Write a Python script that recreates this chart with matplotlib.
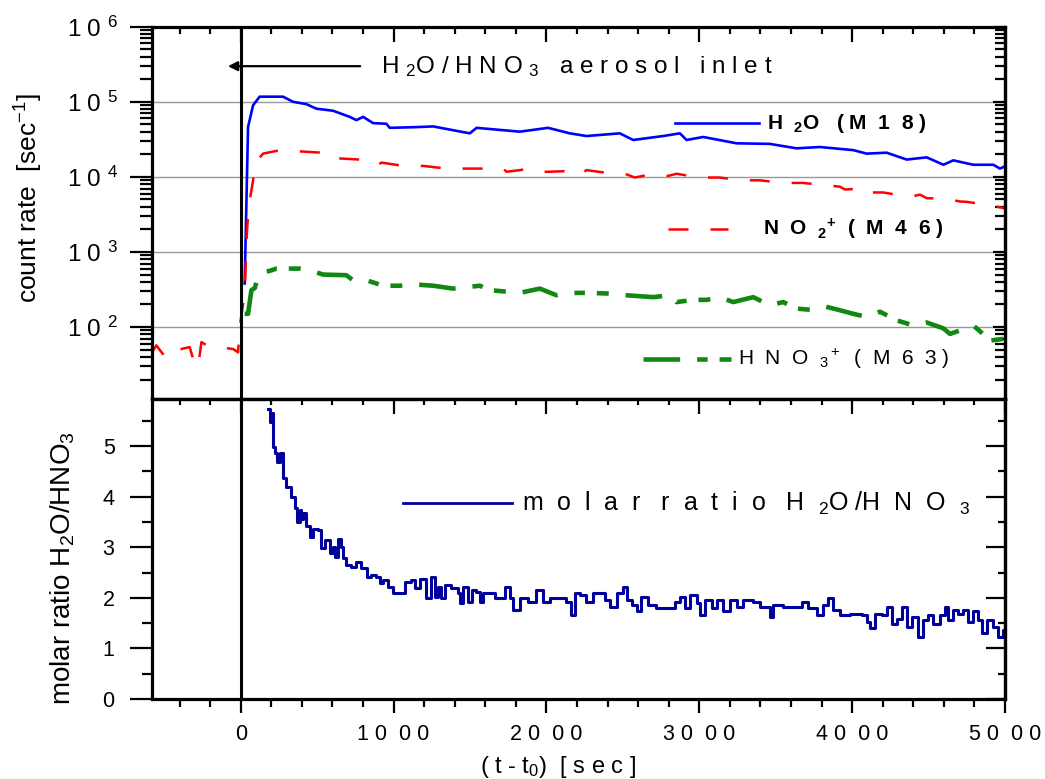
import numpy as np
import matplotlib
matplotlib.use("Agg")
import matplotlib.pyplot as plt
from matplotlib.ticker import FixedLocator, MultipleLocator, LogLocator, NullFormatter, FixedFormatter

plt.rcParams['font.family'] = ['Liberation Sans', 'DejaVu Sans']
plt.rcParams['mathtext.fontset'] = 'custom'
plt.rcParams['mathtext.rm'] = 'Liberation Sans'
plt.rcParams['mathtext.it'] = 'Liberation Sans:italic'
plt.rcParams['mathtext.bf'] = 'Liberation Sans:bold'

# H2O count rate (M18)
t_h2o = [26, 48, 81, 124, 234, 277, 342, 430, 495, 604, 713, 757, 801, 866, 953, 975,
         1150, 1259, 1412, 1499, 1543, 1826, 2011, 2153, 2262, 2480, 2568, 2764, 2873,
         2917, 3026, 3244, 3462, 3636, 3789, 4008, 4095, 4226, 4357, 4488, 4597, 4662,
         4793, 4924, 4967, 5000]
c_h2o = [380, 46000, 90000, 117000, 117000, 117000, 100000, 93000, 81000, 76000, 63000,
         57000, 63000, 52000, 51000, 45000, 46000, 47000, 41000, 38000, 45000, 40000,
         45000, 38000, 35000, 38000, 31000, 35000, 38000, 31000, 34000, 28000, 27500,
         24000, 25000, 22700, 20400, 21000, 17000, 18200, 14500, 16600, 14500, 14500,
         12900, 13800]

# NO2+ count rate (M46)
t_no2 = [-580, -552, -486, -443, -389, -334, -312, -279, -257, -203, -116, -50, -17, -7,
         26, 40, 52, 81, 92, 146, 234, 365, 528, 561, 648, 779, 888, 921, 1063, 1194,
         1346, 1499, 1630, 1717, 1739, 1826, 1891, 1957, 2022, 2153, 2219, 2262, 2437,
         2524, 2579, 2698, 2797, 2851, 3004, 3135, 3266, 3397, 3549, 3680, 3811, 3920,
         3953, 4095, 4117, 4204, 4378, 4444, 4488, 4618, 4706, 4749, 4902, 5000]
c_no2 = [46, 57, 38, 46, 51, 54, 38, 29, 63, 54, 53, 51, 46, 100,
         280, 1740, 4000, 9000, 15000, 20400, 22200, 22000, 21000, 17600, 17600, 17000,
         14000, 15500, 14000, 14000, 12900, 12900, 12900, 12900, 11700, 12300, 12900,
         11700, 11700, 12000, 10500, 12300, 11000, 10800, 9800, 11000, 10300, 11000,
         9800, 9800, 9000, 9000, 8300, 8300, 7800, 7400, 6800, 7000, 6200, 6200, 5400,
         5800, 5200, 5100, 4700, 4650, 4200, 3800]

# HNO3+ count rate (M63)
t_hno3 = [26, 48, 70, 92, 113, 146, 190, 234, 386, 452, 539, 691, 735, 822, 888, 932,
          1041, 1128, 1259, 1390, 1564, 1630, 1826, 1957, 2066, 2153, 2262, 2393, 2524,
          2698, 2808, 2851, 2960, 3048, 3135, 3222, 3353, 3462, 3549, 3636, 3724, 3811,
          3898, 4008, 4095, 4182, 4291, 4400, 4488, 4597, 4640, 4706, 4793, 4836, 4902,
          5000]
c_hno3 = [150, 150, 310, 330, 465, 540, 560, 600, 600, 570, 500, 490, 420, 420, 380, 355,
          355, 370, 355, 325, 355, 310, 285, 325, 265, 285, 285, 280, 265, 250, 265, 215,
          230, 230, 250, 215, 250, 195, 215, 176, 170, 190, 172, 150, 136, 160, 123, 105,
          115, 96, 81, 90, 105, 88, 66, 70]

# molar ratio H2O/HNO3
t_ratio = [179, 190, 201, 212, 223, 240, 255, 277, 299, 332, 353, 370, 386, 397, 408, 430,
           452, 473, 506, 528, 550, 582, 604, 615, 637, 659, 670, 692, 724, 757, 790, 823,
           855, 888, 910, 931, 964, 997, 1052, 1073, 1117, 1139, 1171, 1204, 1215, 1248,
           1270, 1291, 1313, 1335, 1379, 1422, 1433, 1455, 1488, 1510, 1542, 1564, 1586,
           1662, 1728, 1760, 1782, 1826, 1880, 1935, 1978, 2022, 2088, 2131, 2164, 2186,
           2219, 2262, 2306, 2349, 2382, 2415, 2459, 2502, 2524, 2557, 2590, 2622, 2666,
           2720, 2786, 2840, 2873, 2906, 2938, 2982, 3004, 3037, 3081, 3113, 3157, 3200,
           3244, 3288, 3353, 3397, 3462, 3484, 3549, 3615, 3669, 3713, 3768, 3811, 3844,
           3877, 3920, 3986, 4062, 4095, 4117, 4149, 4193, 4226, 4258, 4291, 4324, 4357,
           4389, 4433, 4466, 4498, 4531, 4575, 4607, 4629, 4662, 4695, 4728, 4760, 4793,
           4826, 4848, 4880, 4924, 4957, 4989, 5000]
r_ratio = [5.74, 5.48, 5.65, 4.99, 4.86, 4.69, 4.86, 4.36, 4.20, 4.00, 3.77, 3.50, 3.74,
           3.55, 3.67, 3.41, 3.21, 3.37, 3.35, 2.98, 3.14, 2.88, 3.01, 2.81, 3.17, 3.01,
           2.78, 2.65, 2.61, 2.71, 2.58, 2.42, 2.45, 2.42, 2.29, 2.35, 2.22, 2.09, 2.09,
           2.32, 2.35, 2.19, 2.38, 2.38, 1.99, 2.42, 2.02, 2.22, 1.99, 2.25, 2.19, 2.09,
           1.89, 2.22, 1.92, 2.15, 2.12, 1.92, 2.09, 1.99, 2.22, 1.99, 1.76, 1.99, 1.92,
           2.15, 1.92, 1.99, 1.99, 1.92, 1.66, 2.09, 2.06, 1.92, 2.09, 2.09, 1.96, 1.82,
           2.09, 2.22, 1.96, 1.86, 1.73, 2.02, 1.86, 1.79, 1.79, 1.92, 2.02, 1.79, 2.06,
           1.89, 1.66, 1.96, 1.79, 1.96, 1.73, 1.96, 1.82, 1.96, 1.92, 1.82, 1.63, 1.86,
           1.82, 1.82, 1.92, 1.79, 1.66, 1.86, 1.99, 1.76, 1.66, 1.69, 1.66, 1.53, 1.40,
           1.69, 1.66, 1.82, 1.49, 1.59, 1.82, 1.43, 1.63, 1.23, 1.56, 1.66, 1.49, 1.66,
           1.82, 1.56, 1.76, 1.69, 1.76, 1.53, 1.73, 1.56, 1.30, 1.56, 1.43, 1.23, 1.36,
           1.36]

x_ticks = [0, 1000, 2000, 3000, 4000, 5000]
x_labels = ['0', '1 0  0 0', '2 0  0 0', '3 0  0 0', '4 0  0 0', '5 0  0 0']
log_ticks = [1e2, 1e3, 1e4, 1e5, 1e6]
log_labels = [r'$\mathregular{1\;0}^{\;\;\mathregular{%d}}$' % e for e in range(2, 7)]
ratio_ticks = [0, 1, 2, 3, 4, 5]

fig = plt.figure(figsize=(10.45, 7.79), dpi=100)
ax1 = fig.add_axes([0.1455, 0.4878, 0.8162, 0.4779])
ax2 = fig.add_axes([0.1455, 0.1027, 0.8162, 0.3851])

# top panel: count rates
ax1.plot(t_h2o, c_h2o, color='#0000ff', lw=1.9)
ax1.plot(t_no2, c_no2, color='#ff0000', lw=1.8, dashes=(8, 8.8))
ax1.plot(t_hno3, c_hno3, color='#118811', lw=3.3, dashes=(8, 3.7, 2.3, 2.6, 2.6, 3.7))
ax1.set_yscale('log')
ax1.set_ylim(11, 1e6)
ax1.set_xlim(-580, 5000)
ax1.axvline(0, color='black', lw=2.2)
ax1.yaxis.set_major_locator(FixedLocator(log_ticks))
ax1.yaxis.set_major_formatter(FixedFormatter(log_labels))
ax1.yaxis.set_minor_locator(LogLocator(base=10, subs=np.arange(2, 10)))
ax1.yaxis.set_minor_formatter(NullFormatter())
for v in log_ticks[:-1]:
    ax1.axhline(v, color='#999999', lw=1.0, zorder=0)

ax1.annotate('', xy=(0.089, 0.894), xytext=(0.244, 0.894), xycoords='axes fraction',
             arrowprops=dict(arrowstyle='-|>', color='black', lw=1.6,
                             mutation_scale=14, shrinkA=0, shrinkB=0))
ax1.text(0.269, 0.894, r'H $_2$O / H N O $_3$   a e r o s o l   i n l e t',
         transform=ax1.transAxes, fontsize=17.5, va='center', ha='left')

# legend samples
ax1.plot([0.613, 0.712], [0.741, 0.741], transform=ax1.transAxes, color='#0000ff', lw=1.9)
ax1.text(0.721, 0.741, r'H  $_{\mathbf{2}}$O   ( M  1  8 )', transform=ax1.transAxes,
         fontsize=15, fontweight='bold', va='center')
ax1.plot([0.605, 0.675], [0.457, 0.457], transform=ax1.transAxes, color='#ff0000',
         lw=1.8, dashes=(8, 8.8))
ax1.text(0.716, 0.457, r'N  O  $_{\mathbf{2}}$$^{\mathbf{+}}$  (  M  4  6 )',
         transform=ax1.transAxes, fontsize=15, fontweight='bold', va='center')
ax1.plot([0.576, 0.681], [0.107, 0.107], transform=ax1.transAxes, color='#118811',
         lw=3.3, dashes=(8, 3.7, 2.3, 2.6, 2.6, 3.7))
ax1.text(0.687, 0.107, r'H  N  O  $_3$$^+$  (  M  6  3 )', transform=ax1.transAxes,
         fontsize=15, va='center')

ax1.set_ylabel(r'count rate  [sec$^{-1}$]', fontsize=19)
ax1.yaxis.set_label_coords(-0.126, 0.54)

# bottom panel: molar ratio
ax2.plot(t_ratio, r_ratio, color='#00009c', lw=2.2, drawstyle='steps-post')
ax2.set_xlim(-580, 5000)
ax2.set_ylim(0, 5.93)
ax2.axvline(0, color='black', lw=2.2)
ax2.yaxis.set_major_locator(FixedLocator(ratio_ticks))
ax2.yaxis.set_minor_locator(MultipleLocator(0.5))
ax2.plot([0.294, 0.422], [0.653, 0.653], transform=ax2.transAxes, color='#00009c', lw=2.0)
ax2.text(0.434, 0.653, r'm  o  l  a  r   r  a  t  i  o   H  $_2$O /H  N  O  $_3$',
         transform=ax2.transAxes, fontsize=18, va='center')
ax2.set_ylabel(r'molar ratio H$_2$O/HNO$_3$', fontsize=20)
ax2.yaxis.set_label_coords(-0.088, 0.437)
ax2.set_xlabel(r'( t - t$_0$)  [ s e c ]', fontsize=17)
ax2.xaxis.set_label_coords(0.476, -0.183)

ax1.xaxis.set_major_locator(FixedLocator(x_ticks))
ax1.xaxis.set_minor_locator(MultipleLocator(200))
ax2.xaxis.set_major_locator(FixedLocator(x_ticks))
ax2.xaxis.set_major_formatter(FixedFormatter(x_labels))
ax2.xaxis.set_minor_locator(MultipleLocator(200))

for ax in (ax1, ax2):
    for s in ax.spines.values():
        s.set_linewidth(2.3)
    ax.tick_params(axis='both', which='both', width=1.6, labelsize=15.5, colors='black')

# top panel ticks: top edge inward, left outward, right inward
ax1.tick_params(axis='x', which='both', top=True, bottom=False, labelbottom=False, direction='in')
ax1.tick_params(axis='x', which='major', length=11)
ax1.tick_params(axis='x', which='minor', length=5)
ax1.tick_params(axis='y', which='both', left=True, right=False, direction='out')
ax1.tick_params(axis='y', which='major', length=16, pad=8, labelsize=17.5)
ax1.tick_params(axis='y', which='minor', length=9)
r1 = ax1.secondary_yaxis('right')
r1.yaxis.set_major_locator(FixedLocator(log_ticks))
r1.yaxis.set_minor_locator(LogLocator(base=10, subs=np.arange(2, 10)))
r1.yaxis.set_major_formatter(NullFormatter())
r1.yaxis.set_minor_formatter(NullFormatter())
r1.tick_params(which='both', direction='in', width=1.6)
r1.tick_params(which='major', length=9)
r1.tick_params(which='minor', length=7)
r1.spines['right'].set_linewidth(2.3)

# bottom panel ticks: bottom outward, top inward, left outward, right inward
ax2.tick_params(axis='x', which='both', top=False, bottom=True, direction='out')
ax2.tick_params(axis='x', which='major', length=10, pad=8)
ax2.tick_params(axis='x', which='minor', length=6)
ax2.tick_params(axis='y', which='both', left=True, right=False, direction='out')
ax2.tick_params(axis='y', which='major', length=16, pad=11)
ax2.tick_params(axis='y', which='minor', length=7)
t2 = ax2.secondary_xaxis('top')
t2.xaxis.set_major_locator(FixedLocator(x_ticks))
t2.xaxis.set_minor_locator(MultipleLocator(200))
t2.xaxis.set_major_formatter(NullFormatter())
t2.tick_params(which='both', direction='in', width=1.6)
t2.tick_params(which='major', length=11)
t2.tick_params(which='minor', length=4)
t2.spines['top'].set_linewidth(2.3)
r2 = ax2.secondary_yaxis('right')
r2.yaxis.set_major_locator(FixedLocator(ratio_ticks))
r2.yaxis.set_minor_locator(MultipleLocator(0.5))
r2.yaxis.set_major_formatter(NullFormatter())
r2.tick_params(which='both', direction='in', width=1.6)
r2.tick_params(which='major', length=14)
r2.tick_params(which='minor', length=5)
r2.spines['right'].set_linewidth(2.3)

fig.savefig('out.png', dpi=100)
